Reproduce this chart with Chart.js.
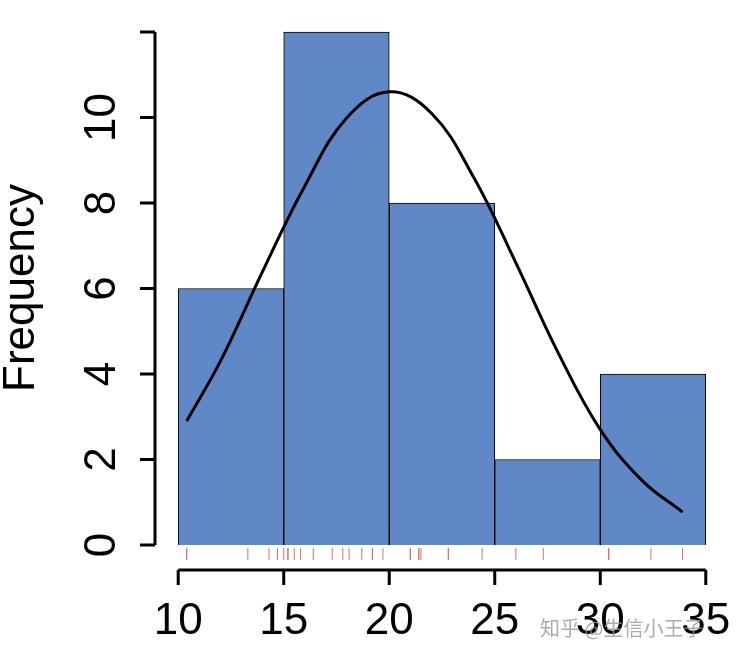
<!DOCTYPE html>
<html><head><meta charset="utf-8">
<script src="https://cdn.jsdelivr.net/npm/chart.js@4"></script>
<style>body{margin:0;background:#fff}#wrap{width:738px;height:659px}</style>
</head><body><div id="wrap"><canvas id="c"></canvas></div>
<script>
const binMids = [12.5, 17.5, 22.5, 27.5, 32.5];
const counts = [6, 12, 8, 2, 4];
const curveX = [10.4, 12, 14, 16, 18, 20, 22, 24, 26, 28, 30, 32, 33.9];
const curveY = [2.9, 4.3, 6.4, 8.4, 10.0, 10.6, 10.1, 8.6, 6.6, 4.5, 2.7, 1.5, 0.77];
const rugX = [21, 21, 22.8, 21.4, 18.7, 18.1, 14.3, 24.4, 22.8, 19.2, 17.8, 16.4, 17.3, 15.2, 10.4, 10.4,
  14.7, 32.4, 30.4, 33.9, 21.5, 15.5, 15.2, 13.3, 19.2, 27.3, 26, 30.4, 15.8, 19.7, 15, 21.4];
const xTicks = [10, 15, 20, 25, 30, 35];
const yTicks = [0, 2, 4, 6, 8, 10];

const axesPlugin = {
  id: 'rAxes',
  afterDraw(chart) {
    const ctx = chart.ctx, xs = chart.scales.x, ys = chart.scales.y;
    ctx.save();
    ctx.strokeStyle = '#000'; ctx.lineWidth = 3; ctx.fillStyle = '#000';
    ctx.font = '44px "Liberation Sans", Arial, sans-serif';
    const ax = 155;
    ctx.beginPath();
    ctx.moveTo(ax, ys.getPixelForValue(0)); ctx.lineTo(ax, ys.getPixelForValue(12));
    [0, 2, 4, 6, 8, 10, 12].forEach(v => {
      const p = ys.getPixelForValue(v);
      ctx.moveTo(ax, p); ctx.lineTo(ax - 15, p);
    });
    ctx.stroke();
    ctx.textAlign = 'center'; ctx.textBaseline = 'middle';
    yTicks.forEach(v => {
      ctx.save(); ctx.translate(103, ys.getPixelForValue(v)); ctx.rotate(-Math.PI / 2);
      ctx.fillText(String(v), 0, 0); ctx.restore();
    });
    ctx.save(); ctx.translate(22, 288); ctx.rotate(-Math.PI / 2);
    ctx.fillText('Frequency', 0, 0); ctx.restore();
    const ay = 570;
    ctx.beginPath();
    ctx.moveTo(xs.getPixelForValue(10), ay); ctx.lineTo(xs.getPixelForValue(35), ay);
    xTicks.forEach(v => {
      const p = xs.getPixelForValue(v);
      ctx.moveTo(p, ay); ctx.lineTo(p, ay + 15);
    });
    ctx.stroke();
    xTicks.forEach(v => ctx.fillText(String(v), xs.getPixelForValue(v), 622));
    ctx.font = '20px "Noto Sans CJK SC", sans-serif';
    ctx.fillStyle = 'rgba(150,150,150,0.8)'; ctx.textAlign = 'left';
    ctx.fillText('知乎 @生信小王子', 540, 628);
    ctx.restore();
  }
};

new Chart(document.getElementById('c'), {
  data: {
    datasets: [
      { type: 'line', data: curveX.map((x, i) => ({ x, y: curveY[i] })), borderColor: '#000',
        borderWidth: 3, pointRadius: 0, tension: 0.4, fill: false, order: 0 },
      { type: 'scatter', data: rugX.map(x => ({ x, y: -0.21 })), pointStyle: 'line', rotation: 90,
        pointRadius: 6, borderColor: '#e07060', borderWidth: 1, clip: false, order: 1 },
      { type: 'bar', data: binMids.map((x, i) => ({ x, y: counts[i] })), backgroundColor: '#6088c6',
        borderColor: '#000', borderWidth: 1, barPercentage: 1, categoryPercentage: 1, order: 2 }
    ]
  },
  options: {
    responsive: true, maintainAspectRatio: false, animation: false,
    layout: { padding: { left: 155, right: 9, top: 11.5, bottom: 93.5 } },
    plugins: { legend: { display: false }, tooltip: { enabled: false } },
    scales: {
      x: { type: 'linear', min: 8.9, max: 36.1, offset: false, display: false },
      y: { min: -0.48, max: 12.48, display: false }
    }
  },
  plugins: [axesPlugin]
});
</script></body></html>
